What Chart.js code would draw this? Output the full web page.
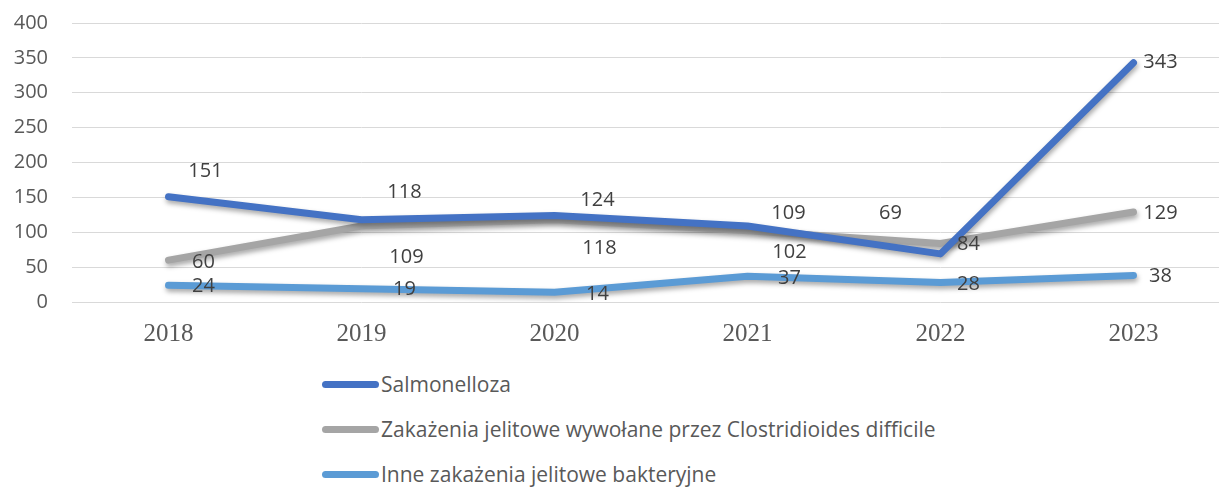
<!DOCTYPE html>
<html lang="pl">
<head>
<meta charset="utf-8">
<title>Zakażenia jelitowe 2018-2023</title>
<script src="https://cdn.jsdelivr.net/npm/chart.js@4/dist/chart.umd.min.js"></script>
<style>
  html, body { margin: 0; padding: 0; background: #fff; }
  #wrap { position: relative; width: 1219px; height: 488px; overflow: hidden; }
  #chart { position: absolute; left: 0; top: -13px; }
  #legend { position: absolute; left: 322px; top: 370px; font-family: "Open Sans", "Liberation Sans", sans-serif; font-size: 21px; color: #595959; }
  #legend .item { display: flex; align-items: center; height: 28px; margin-bottom: 17px; }
  #legend .mark { width: 57px; height: 7px; border-radius: 4px; margin-right: 2px; }
</style>
</head>
<body>
<div id="wrap">
  <canvas id="chart" width="1230" height="371"></canvas>
  <div id="legend"></div>
</div>
<script>
// data
const years = ["2018", "2019", "2020", "2021", "2022", "2023"];
const salmonelloza = [151, 118, 124, 109, 69, 343];
const clostridioides = [60, 109, 118, 102, 84, 129];
const inneBakteryjne = [24, 19, 14, 37, 28, 38];
const seriesNames = [
  "Salmonelloza",
  "Zakażenia jelitowe wywołane przez Clostridioides difficile",
  "Inne zakażenia jelitowe bakteryjne",
];
const yMax = 400;
const yStep = 50;

// where each value label sits relative to its point (dx, dy in px)
const labelOffsets = [
  [[37, -25], [43, -27], [43, -15], [41, -13], [-50, -41], [27, 0]],
  [[35, 2], [45, 31], [45, 29], [42, 21], [28, 1], [27, 1]],
  [[35, 1], [43, 1], [43, 2], [42, 2], [28, 2], [27, 1]],
];

const colors = ["#4472C4", "#A5A5A5", "#5B9BD5"];
const sansFont = "'Open Sans', 'Liberation Sans', sans-serif";

const shadowPlugin = {
  id: "lineShadow",
  beforeDatasetDraw(chart) {
    const ctx = chart.ctx;
    ctx.save();
    ctx.shadowColor = "rgba(0,0,0,0.35)";
    ctx.shadowBlur = 5;
    ctx.shadowOffsetX = 1;
    ctx.shadowOffsetY = 3;
  },
  afterDatasetDraw(chart) {
    chart.ctx.restore();
  },
};

const valueLabels = {
  id: "valueLabels",
  afterDatasetsDraw(chart) {
    const ctx = chart.ctx;
    ctx.save();
    ctx.font = "20px " + sansFont;
    ctx.fillStyle = "#404040";
    ctx.textAlign = "center";
    ctx.textBaseline = "middle";
    chart.data.datasets.forEach((ds, i) => {
      const meta = chart.getDatasetMeta(i);
      meta.data.forEach((pt, j) => {
        const off = labelOffsets[i][j];
        ctx.fillText(String(ds.data[j]), pt.x + off[0], pt.y + off[1]);
      });
    });
    ctx.restore();
  },
};

const seriesData = [salmonelloza, clostridioides, inneBakteryjne];

const chart = new Chart(document.getElementById("chart"), {
  type: "line",
  data: {
    labels: years,
    datasets: seriesData.map((d, i) => ({
      label: seriesNames[i],
      data: d,
      borderColor: colors[i],
      backgroundColor: colors[i],
      borderWidth: 7,
      borderCapStyle: "round",
      borderJoinStyle: "round",
      pointRadius: 0,
      fill: false,
      tension: 0,
      order: i,
    })),
  },
  options: {
    responsive: false,
    animation: false,
    layout: { padding: { left: 10, right: 0, top: 0, bottom: 0 } },
    plugins: {
      legend: { display: false },
      tooltip: { enabled: false },
    },
    scales: {
      x: {
        offset: true,
        grid: { display: false },
        border: { display: false },
        ticks: {
          color: "#595959",
          padding: 9,
          font: { family: "'Liberation Serif', 'DejaVu Serif', serif", size: 25 },
        },
      },
      y: {
        min: 0,
        max: yMax,
        border: { display: false },
        grid: { color: "#D9D9D9", lineWidth: 1, drawTicks: false },
        afterFit(scale) {
          scale.width = 62;
        },
        ticks: {
          stepSize: yStep,
          color: "#595959",
          padding: 24,
          font: { family: sansFont, size: 20 },
        },
      },
    },
  },
  plugins: [shadowPlugin, valueLabels],
});

// legend stacked underneath, like the original
const legendEl = document.getElementById("legend");
chart.data.datasets.forEach((ds) => {
  const item = document.createElement("div");
  item.className = "item";
  const mark = document.createElement("span");
  mark.className = "mark";
  mark.style.background = ds.borderColor;
  const txt = document.createElement("span");
  txt.textContent = ds.label;
  item.appendChild(mark);
  item.appendChild(txt);
  legendEl.appendChild(item);
});
</script>
</body>
</html>
